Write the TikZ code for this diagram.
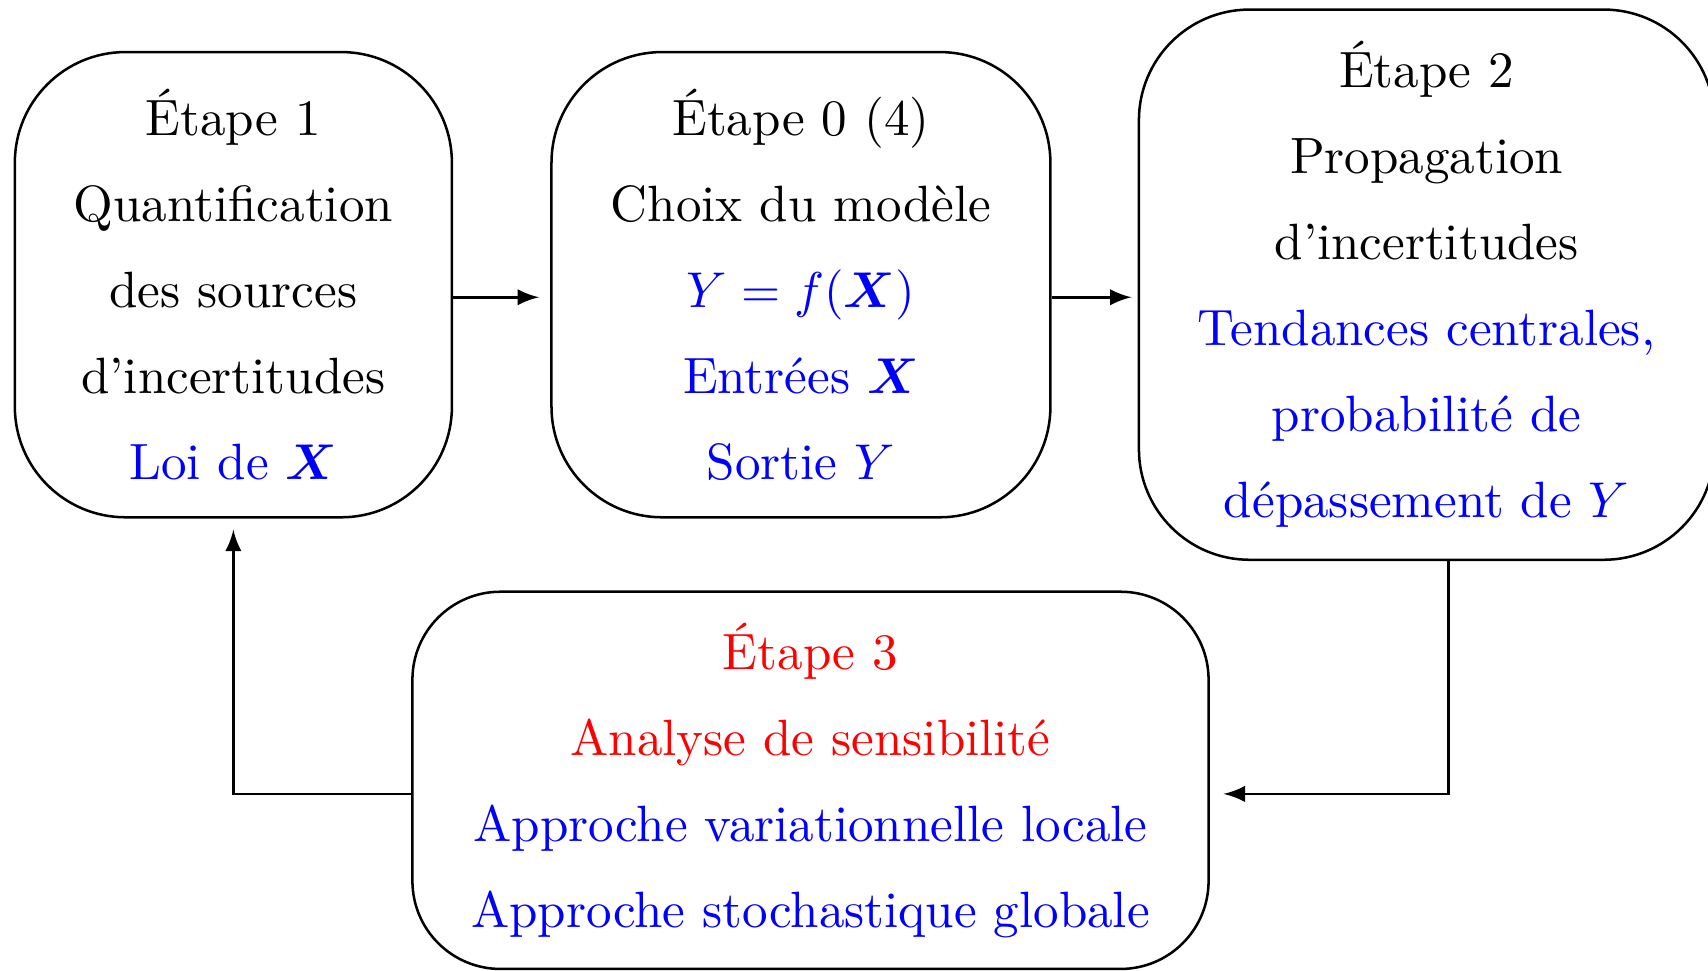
\documentclass[tikz,border=0pt]{standalone}
\usepackage{amsmath}
\usepackage{amssymb}
\usepackage{tikz}
\usetikzlibrary{positioning}

\tikzset{
  etape/.style={draw, rounded corners=22pt, align=center, inner sep=0pt,
    font={\fontsize{10.15pt}{17.1pt}\selectfont}},
}

\begin{document}
\begin{tikzpicture}[line width=0.5pt, >=latex]
      \useasboundingbox (0,0) rectangle (339.6pt,-193pt);
      \node[etape, minimum width=86.9pt, minimum height=92.5pt] (e1) at (46.4pt,-56.6pt)
        {\'Etape 1\\ Quantification\\ des sources\\ d'incertitudes\\
         \textcolor{blue}{Loi de $\boldsymbol{X}$}};
      \node[etape, minimum width=99.2pt, minimum height=92.5pt, right=19.3pt of e1] (e0)
        {\'Etape 0 (4)\\ Choix du mod\`ele\\
         \textcolor{blue}{$Y=f(\boldsymbol{X})$}\\
         \textcolor{blue}{Entr\'ees $\boldsymbol{X}$}\\
         \textcolor{blue}{Sortie $Y$}};
      \node[etape, minimum width=114.4pt, minimum height=109.4pt, right=17.1pt of e0] (e2)
        {\'Etape 2\\ Propagation\\ d'incertitudes\\
         \textcolor{blue}{Tendances centrales,}\\
         \textcolor{blue}{probabilit\'e de}\\
         \textcolor{blue}{d\'epassement de $Y$}};
      \node[etape, rounded corners=17.5pt, minimum width=158.3pt, minimum height=75pt,
        below=14.3pt of e0, xshift=1.9pt] (e3)
        {\textcolor{red}{\'Etape 3}\\
         \textcolor{red}{Analyse de sensibilit\'e}\\
         \textcolor{blue}{Approche variationnelle locale}\\
         \textcolor{blue}{Approche stochastique globale}};

      \draw[->,shorten >=2.2pt] ([yshift=-2.5pt]e1.east) -- ([yshift=-2.5pt]e0.west);
      \draw[->,shorten >=1.2pt] ([yshift=-2.5pt]e0.east) -- ([yshift=-2.5pt]e2.west);
      %% feedback loop
      \draw[->] ([xshift=4.4pt]e2.south) |- ([xshift=2.7pt,yshift=-2.7pt]e3.east);
      \draw[->] ([yshift=-2.7pt]e3.west) -| ([yshift=-2.2pt]e1.south);
    \end{tikzpicture}
\end{document}
